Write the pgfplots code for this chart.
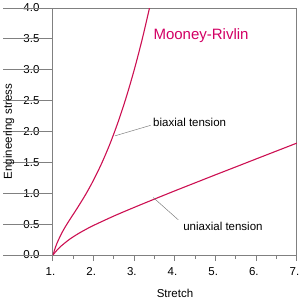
\documentclass[border=0pt]{standalone}
\usepackage{pgfplots}
\pgfplotsset{compat=1.18}
\usepackage{fontspec}
\setmainfont{Liberation Sans}
\definecolor{curve}{RGB}{204,16,82}
\definecolor{ttl}{RGB}{210,0,100}
\definecolor{axgray}{RGB}{128,128,128}
\begin{document}
\begin{tikzpicture}
\useasboundingbox (-53pt,-46pt) rectangle (247pt,255pt);
\begin{axis}[
  scale only axis,
  width=244pt, height=247pt,
  xmin=1, xmax=7, ymin=0, ymax=4,
  enlargelimits=false,
  clip mode=individual,
  axis line style={axgray, line width=1pt},
  xtick={1,2,3,4,5,6,7},
  xticklabels={1.,2.,3.,4.,5.,6.,7.},
  minor x tick num=1,
  ytick={0,0.5,1,1.5,2,2.5,3,3.5,4},
  yticklabels={0.0,0.5,1.0,1.5,2.0,2.5,3.0,3.5,4.0},
  tick align=outside,
  xtick pos=bottom, ytick pos=left,
  major tick length=6pt, minor tick length=4pt,
  every tick/.style={axgray, line width=1pt},
  ytick style={draw=none},
  tick label style={font=\fontsize{11.5}{13}\selectfont},
  yticklabel style={anchor=east, xshift=-4pt},
  xticklabel style={anchor=north, yshift=-3pt, xshift=-2.5pt},
  label style={font=\fontsize{11.5}{13}\selectfont},
  xlabel={Stretch},
  ylabel={Engineering stress},
  xlabel style={at={(axis description cs:0.5,0)}, anchor=center, yshift=-38pt},
  ylabel style={at={(axis description cs:0,0.5)}, anchor=center, rotate=0, yshift=44pt},
]
% biaxial tension
\addplot[curve, line width=1.1pt, smooth] coordinates {
 (1,0) (1.05,0.105) (1.1,0.193) (1.2,0.336) (1.3,0.454) (1.4,0.560)
 (1.5,0.661) (1.6,0.763) (1.8,0.977) (2.0,1.217) (2.2,1.489)
 (2.4,1.799) (2.6,2.153) (2.8,2.553) (3.0,3.005) (3.2,3.512) (3.4,4.078)
};
% uniaxial tension
\addplot[curve, line width=1.1pt, smooth] coordinates {
 (1,0) (1.05,0.042) (1.1,0.079) (1.2,0.145) (1.4,0.251) (1.6,0.337)
 (1.8,0.412) (2.0,0.480) (2.5,0.632) (3.0,0.772) (3.5,0.907)
 (4.0,1.040) (4.5,1.170) (5.0,1.300) (5.5,1.428) (6.0,1.557)
 (6.5,1.685) (7.0,1.813)
};
\pgfplotsinvokeforeach{0,0.5,1,1.5,2,2.5,3,3.5,4}{
  \draw[axgray, line width=1pt] (axis cs:1,#1) -- ++(-9pt,0);
}
\draw[axgray, line width=0.5pt] (axis cs:2.525,1.93) -- (axis cs:3.40,2.10);
\draw[axgray, line width=0.5pt] (axis cs:3.466,0.93) -- (axis cs:4.08,0.57);
\node[anchor=west, inner sep=0pt, font=\fontsize{11.5}{13}\selectfont] at (axis cs:3.46,2.15) {biaxial tension};
\node[anchor=west, inner sep=0pt, font=\fontsize{11.5}{13}\selectfont] at (axis cs:4.20,0.47) {uniaxial tension};
\node[anchor=center, inner sep=0pt, text=ttl, font=\fontsize{15}{17}\selectfont] at (axis cs:4.64,3.55) {Mooney-Rivlin};
\end{axis}
\end{tikzpicture}
\end{document}
